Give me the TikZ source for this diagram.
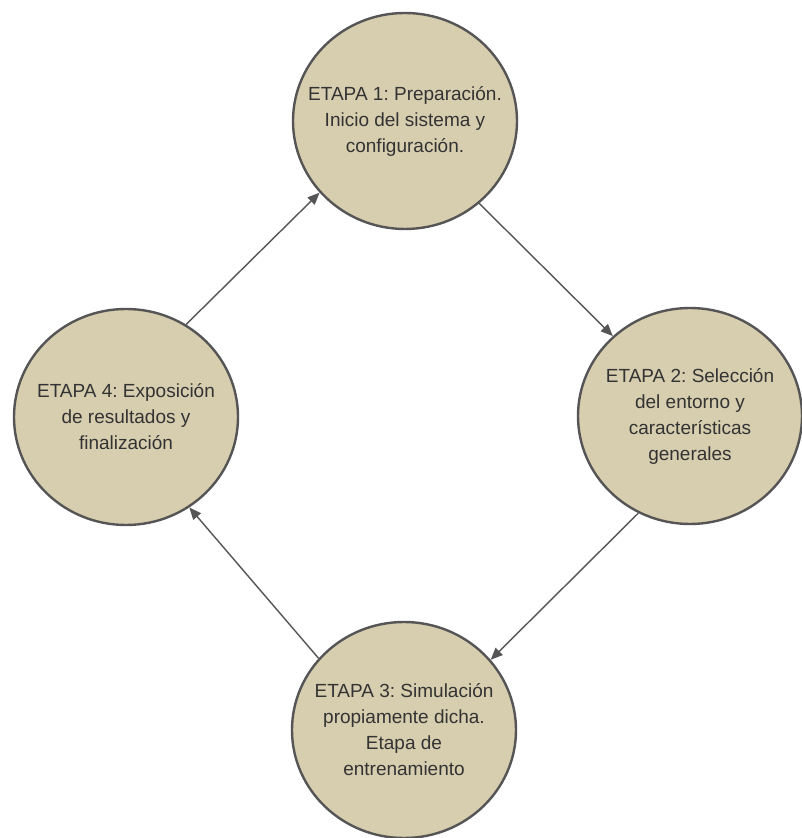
\documentclass[tikz,border=0pt]{standalone}
\usepackage{fontspec}
\setmainfont{Liberation Sans}
\frenchspacing
\usetikzlibrary{shapes.geometric,arrows.meta}
\definecolor{stagefill}{HTML}{D7CEAF}
\definecolor{stageline}{HTML}{555555}
\definecolor{stagetext}{HTML}{333333}
\begin{document}
\begin{tikzpicture}[x=1pt,y=1pt,
  stage/.style={ellipse, draw=stageline, line width=2.4pt, fill=stagefill,
    minimum width=224pt, minimum height=216pt, inner xsep=-40pt, inner ysep=0pt,
    text=stagetext, align=center,
    font=\fontsize{19}{26}\selectfont},
  conn/.style={draw=stageline, line width=1.4pt,
    -{Triangle[length=12pt,width=10pt]}}]
\useasboundingbox (0,0) rectangle (801,838);
\fill[white] (0,0) rectangle (801,838);
\node[stage] (s1) at (405,717) {ETAPA 1: Preparación.\\Inicio del sistema y\\configuración.};
\node[stage] (s2) at (690,422) {ETAPA 2: Selección\\del entorno y\\características\\generales};
\node[stage] (s3) at (404,108) {ETAPA 3: Simulación\\propiamente dicha.\\Etapa de\\entrenamiento};
\node[stage] (s4) at (126,421) {ETAPA 4: Exposición\\de resultados y\\finalización};
\draw[conn] (s4.57) -- (s1.220);
\draw[conn] (s1.-48) -- (s2.134);
\draw[conn] (s2.-118) -- (s3.39);
\draw[conn] (s3.140) -- (s4.-55);
\end{tikzpicture}
\end{document}
